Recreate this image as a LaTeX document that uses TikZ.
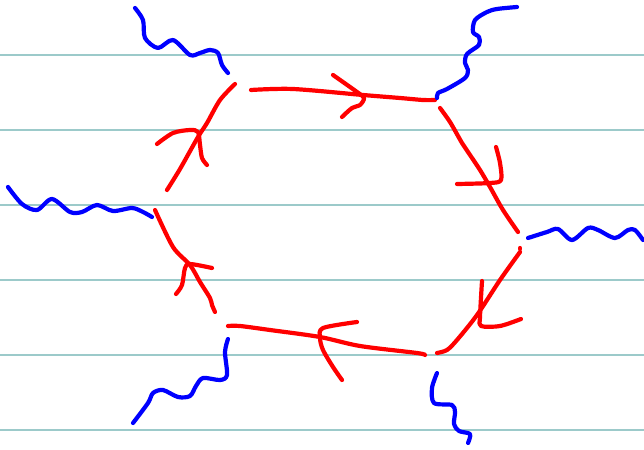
\documentclass[tikz,border=0pt]{standalone}
\usepackage{tikz}
\usetikzlibrary{calc}
\definecolor{RuleTeal}{HTML}{9CCACA}
\definecolor{InkRed}{HTML}{FF0000}
\definecolor{InkBlue}{HTML}{0000FF}
\begin{document}
\begin{tikzpicture}[
    x=1pt, y=-1pt,
    ruling/.style={draw=RuleTeal, line width=1.3pt},
    fermion/.style={draw=InkRed, line width=4.2pt, line cap=round,
                    line join=round},
    photon/.style={draw=InkBlue, line width=4.2pt, line cap=round,
                   line join=round},
  ]
    \useasboundingbox (0,0) rectangle (644,449);

    % -- paper rulings ---------------------------------------------------
    \foreach \yy in {55,130,205,280,355,430}
      \draw[ruling] (0,\yy) -- (644,\yy);

    % -- vertices of the loop -------------------------------------------
    \coordinate (vtl) at (232,80);
    \coordinate (vtr) at (437,99);
    \coordinate (vr)  at (521,240);
    \coordinate (vbr) at (431,355);
    \coordinate (vbl) at (222,326);
    \coordinate (vl)  at (158,204);

    % -- loop edges (hand drawn) ----------------------------------------
    % top: tl -> tr
    \draw[fermion] plot[smooth] coordinates
      {(251,90) (293,89) (363,95) (400,98) (423,100) (435,100)};
    \draw[fermion] plot[smooth] coordinates
      {(333,75) (357,92) (364,98) (360,105) (352,108) (342,117)};
    % upper right: tr -> r
    \draw[fermion] plot[smooth] coordinates
      {(440,108) (450,122) (462,143) (468,152) (480,170) (490,187)
       (503,210) (518,232)};
    \draw[fermion] plot[smooth] coordinates
      {(496,147) (500,163) (501,180) (490,183) (457,184)};
    % lower right: r -> br
    \draw[fermion] (520,248) -- (520,249);
    \draw[fermion] plot[smooth] coordinates
      {(520,252) (500,280) (477,315) (457,340) (447,350) (437,353)};
    \draw[fermion] plot[smooth] coordinates
      {(482,281) (480,317) (481,326) (500,326) (521,319)};
    % bottom: br -> bl
    \draw[fermion] plot[smooth] coordinates
      {(425,355) (417,353) (360,346) (320,337) (270,330) (240,326)
       (228,326)};
    \draw[fermion] plot[smooth] coordinates
      {(357,322) (323,328) (320,338) (323,350) (333,367) (342,380)};
    % lower left: bl -> l
    \draw[fermion] plot[smooth] coordinates
      {(215,312) (212,305) (210,298) (200,282) (190,265) (173,247)
       (155,210)};
    \draw[fermion] plot[smooth] coordinates
      {(176,294) (182,285) (185,268) (190,264) (212,268)};
    % upper left: l -> tl
    \draw[fermion] plot[smooth] coordinates
      {(167,190) (180,169) (198,137) (207,123) (220,100) (235,84)};
    \draw[fermion] plot[smooth] coordinates
      {(157,144) (173,133) (190,130) (198,132) (200,145) (202,158)
       (207,165)};

    % -- external photons -----------------------------------------------
    \draw[photon] plot[smooth] coordinates
      {(228,73) (222,65) (218,53) (210,50) (200,53) (190,55) (173,40)
       (158,48) (145,38) (143,20) (135,8)};
    \draw[photon] plot[smooth] coordinates
      {(437,98) (438,93) (447,89) (465,78) (468,70) (465,63) (467,54)
       (479,45) (479,37) (473,32) (475,20) (487,12) (497,9) (517,7)};
    \draw[photon] plot[smooth] coordinates
      {(528,238) (547,232) (558,229) (572,240) (588,228) (598,230)
       (615,238) (628,230) (635,230) (643,240)};
    \draw[photon] plot[smooth] coordinates
      {(437,373) (432,388) (434,403) (452,405) (455,412) (454,424)
       (459,431) (470,434) (468,443)};
    \draw[photon] plot[smooth] coordinates
      {(228,339) (225,352) (227,375) (220,380) (203,378) (196,386)
       (190,396) (178,397) (163,390) (153,393) (148,403) (133,423)};
    \draw[photon] plot[smooth] coordinates
      {(152,217) (143,212) (132,208) (113,211) (97,205) (82,212)
       (70,212) (52,199) (37,210) (22,204) (8,187)};
\end{tikzpicture}
\end{document}
